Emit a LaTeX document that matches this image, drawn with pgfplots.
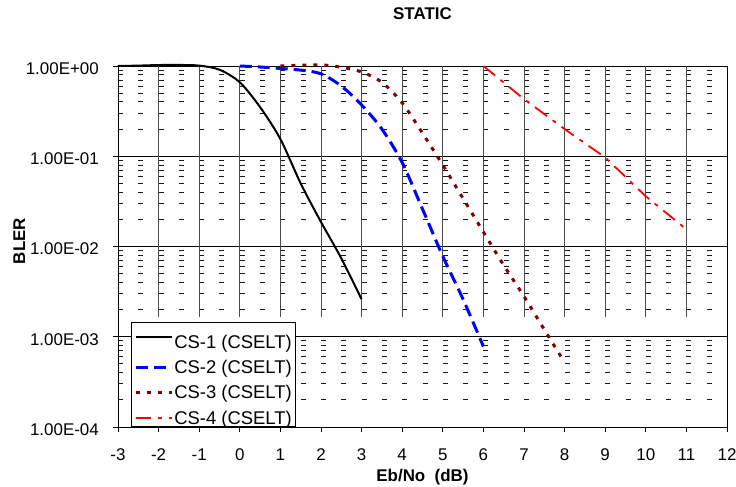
\documentclass[border=0pt]{standalone}
\usepackage{fontspec}
\setmainfont{Liberation Sans}
\usepackage{pgfplots}
\pgfplotsset{compat=1.18}
\definecolor{darkred}{RGB}{128,0,0}
\begin{document}
\begin{tikzpicture}
\begin{axis}[name=ax,
  scale only axis, width=609bp, height=361bp,
  clip=false,
  xmin=-3, xmax=12, ymode=log, ymin=1e-4, ymax=1,
  xtick={-3,...,12},
  xticklabels={-3,-2,-1,0,1,2,3,4,5,6,7,8,9,10,11,12},
  ytick={1e-4,1e-3,1e-2,1e-1,1},
  yticklabels={1.00E-04,1.00E-03,1.00E-02,1.00E-01,1.00E+00},
  minor ytick={2e-4,3e-4,4e-4,5e-4,6e-4,7e-4,8e-4,9e-4,2e-3,3e-3,4e-3,5e-3,6e-3,7e-3,8e-3,9e-3,2e-2,3e-2,4e-2,5e-2,6e-2,7e-2,8e-2,9e-2,0.2,0.3,0.4,0.5,0.6,0.7,0.8,0.9},
  ymajorgrids, yminorgrids,
  major grid style={black, line width=0.8bp},
  minor grid style={black!90, line width=0.9bp, dash pattern=on 5bp off 15.3bp},
  tick align=outside, major tick length=5bp, minor tick length=0pt,
  tick pos=left,
  tick style={black, line width=0.8bp},
  axis line style={black, line width=0.8bp},
  ticklabel style={font=\fontsize{17}{20}\selectfont},
  xticklabel style={anchor=base, inner sep=0pt, yshift=-28bp},
  yticklabel style={anchor=east, inner sep=0pt, xshift=-14bp, yshift=-2.5bp},
  title={STATIC},
  title style={font=\bfseries\fontsize{17}{20}\selectfont, at={(0.5,1)}, anchor=base, yshift=41bp},
  xlabel={Eb/No\ \ (dB)},
  xlabel style={font=\bfseries\fontsize{17}{20}\selectfont, at={(0.5,0)}, anchor=base, yshift=-54bp},
  ylabel={BLER},
  ylabel style={font=\bfseries\fontsize{17}{20}\selectfont, at={(-0.1527,0.515)}, anchor=base},
  legend style={at={(0.0213,0)}, anchor=south west, draw=black, fill=white, line width=0.8bp,
    font=\fontsize{18.5}{21}\selectfont, inner xsep=3bp, inner ysep=0.5bp, row sep=8.9bp,
    nodes={inner sep=1bp, text depth=1bp}},
  legend cell align=left,
  legend image code/.code={\draw[#1] (0bp,0bp) -- (36bp,0bp);},
]
\pgfplotsinvokeforeach{-2,...,11}{
  \draw[black!70, line width=0.8bp] (axis cs:#1,1) -- (axis cs:#1,1.66e-3);
}
\addplot[black, line width=2bp, smooth] coordinates {
(-3,1.0) (-2.5,1.01) (-2,1.025) (-1.5,1.027) (-1,1.01) (-0.5,0.91) (0,0.66) (0.5,0.35) (1,0.155) (1.5,0.05) (2,0.0187) (2.5,0.0074) (3,0.0026)
};
\addlegendentry{\rule{0pt}{24.5bp}CS-1 (CSELT)}
\addplot[blue, line width=3bp, dash pattern=on 12bp off 6bp, smooth] coordinates {
(0,1.0) (0.5,0.975) (1,0.94) (1.5,0.9) (2,0.82) (2.5,0.6) (3,0.37) (3.5,0.2) (4,0.085) (4.5,0.026) (5,0.0078) (5.5,0.0026) (6,0.00078)
};
\addlegendentry{CS-2 (CSELT)}
\addplot[darkred, line width=3bp, dash pattern=on 4bp off 7bp, smooth] coordinates {
(1,1.0) (1.5,1.02) (2,1.03) (2.5,0.97) (3,0.86) (3.5,0.66) (4,0.39) (4.5,0.18) (5,0.08) (5.5,0.034) (6,0.0145) (6.5,0.0062) (7,0.0028) (7.5,0.0012) (8,0.00052)
};
\addlegendentry{CS-3 (CSELT)}
\addplot[red, line width=1.8bp, dash pattern=on 15bp off 7bp on 4bp off 7bp] coordinates {
(6,1.0) (7,0.43) (8,0.2) (9,0.097) (10,0.036) (11,0.0155)
};
\addlegendentry{CS-4 (CSELT)}
\end{axis}
\pgfresetboundingbox
\path[use as bounding box] (ax.south west) ++(-118bp,-60bp) rectangle ++(736bp,487bp);
\end{tikzpicture}
\end{document}
